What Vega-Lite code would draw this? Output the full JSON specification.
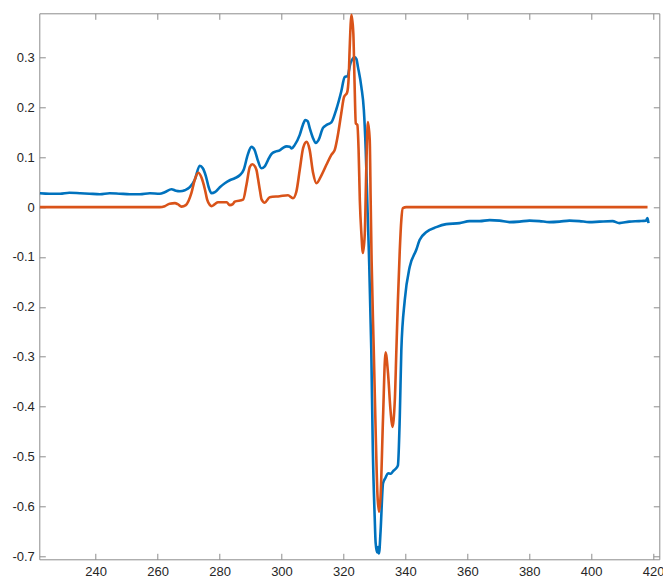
{
  "$schema": "https://vega.github.io/schema/vega-lite/v6.json",
  "autosize": {"type": "none"},
  "width": 620,
  "height": 546,
  "padding": {"left": 39.3, "top": 13.3, "right": 3.7, "bottom": 19.7},
  "background": "white",
  "config": {
    "view": {"stroke": "#8c8c8c", "strokeWidth": 1},
    "axis": {
      "domain": false,
      "grid": false,
      "tickColor": "#8c8c8c",
      "tickSize": -6,
      "labelFont": "Liberation Sans",
      "labelFontSize": 13,
      "labelColor": "#262626",
      "title": null
    }
  },
  "datasets": {
    "blue": [
      {"x": 222.0, "y": 0.028}, {"x": 225.0, "y": 0.027}, {"x": 228.5, "y": 0.027}, {"x": 231.5, "y": 0.029},
      {"x": 234.9, "y": 0.028}, {"x": 238.0, "y": 0.027}, {"x": 241.4, "y": 0.026}, {"x": 244.5, "y": 0.028},
      {"x": 247.8, "y": 0.027}, {"x": 251.0, "y": 0.026}, {"x": 254.3, "y": 0.026}, {"x": 257.5, "y": 0.028},
      {"x": 260.7, "y": 0.027}, {"x": 262.3, "y": 0.030}, {"x": 264.5, "y": 0.036}, {"x": 265.9, "y": 0.033},
      {"x": 267.2, "y": 0.032}, {"x": 268.8, "y": 0.034}, {"x": 270.4, "y": 0.040}, {"x": 272.0, "y": 0.055},
      {"x": 273.6, "y": 0.083}, {"x": 274.6, "y": 0.078}, {"x": 275.6, "y": 0.062}, {"x": 276.5, "y": 0.040},
      {"x": 277.4, "y": 0.028}, {"x": 278.5, "y": 0.030}, {"x": 280.1, "y": 0.040}, {"x": 281.7, "y": 0.048},
      {"x": 283.3, "y": 0.054}, {"x": 284.9, "y": 0.058}, {"x": 286.5, "y": 0.064}, {"x": 287.8, "y": 0.075},
      {"x": 289.1, "y": 0.105}, {"x": 290.3, "y": 0.121}, {"x": 291.3, "y": 0.115}, {"x": 292.3, "y": 0.095},
      {"x": 293.5, "y": 0.078}, {"x": 294.6, "y": 0.082}, {"x": 295.6, "y": 0.094}, {"x": 296.8, "y": 0.107},
      {"x": 298.2, "y": 0.112}, {"x": 299.4, "y": 0.114}, {"x": 300.5, "y": 0.119}, {"x": 301.7, "y": 0.122},
      {"x": 302.7, "y": 0.121}, {"x": 303.3, "y": 0.118}, {"x": 304.3, "y": 0.125}, {"x": 305.9, "y": 0.145},
      {"x": 306.9, "y": 0.165}, {"x": 307.7, "y": 0.175}, {"x": 308.5, "y": 0.172}, {"x": 309.1, "y": 0.159},
      {"x": 310.1, "y": 0.140}, {"x": 311.1, "y": 0.129}, {"x": 312.0, "y": 0.135}, {"x": 313.4, "y": 0.159},
      {"x": 314.6, "y": 0.165}, {"x": 316.1, "y": 0.170}, {"x": 317.7, "y": 0.196}, {"x": 319.3, "y": 0.232},
      {"x": 320.4, "y": 0.261}, {"x": 321.3, "y": 0.263}, {"x": 322.3, "y": 0.289}, {"x": 323.0, "y": 0.298},
      {"x": 323.6, "y": 0.301}, {"x": 324.2, "y": 0.297}, {"x": 324.7, "y": 0.281}, {"x": 325.8, "y": 0.241},
      {"x": 326.6, "y": 0.195}, {"x": 327.2, "y": 0.115}, {"x": 327.7, "y": 0.014}, {"x": 328.2, "y": -0.086},
      {"x": 329.0, "y": -0.287}, {"x": 329.5, "y": -0.488}, {"x": 330.1, "y": -0.622}, {"x": 330.4, "y": -0.673},
      {"x": 330.9, "y": -0.693}, {"x": 331.2, "y": -0.682}, {"x": 331.5, "y": -0.695}, {"x": 332.0, "y": -0.650},
      {"x": 332.8, "y": -0.554}, {"x": 333.6, "y": -0.543}, {"x": 334.4, "y": -0.534}, {"x": 335.3, "y": -0.535},
      {"x": 336.0, "y": -0.530}, {"x": 336.9, "y": -0.525}, {"x": 337.6, "y": -0.518}, {"x": 338.2, "y": -0.421},
      {"x": 338.7, "y": -0.287}, {"x": 339.8, "y": -0.187}, {"x": 341.4, "y": -0.120}, {"x": 343.5, "y": -0.086},
      {"x": 344.6, "y": -0.066}, {"x": 346.8, "y": -0.050}, {"x": 350.0, "y": -0.040}, {"x": 353.2, "y": -0.034},
      {"x": 357.5, "y": -0.032}, {"x": 360.7, "y": -0.028}, {"x": 364.0, "y": -0.028}, {"x": 367.2, "y": -0.026},
      {"x": 370.4, "y": -0.027}, {"x": 373.6, "y": -0.030}, {"x": 376.9, "y": -0.029}, {"x": 380.1, "y": -0.027},
      {"x": 383.3, "y": -0.028}, {"x": 386.5, "y": -0.030}, {"x": 389.8, "y": -0.029}, {"x": 393.0, "y": -0.027},
      {"x": 396.2, "y": -0.028}, {"x": 399.4, "y": -0.030}, {"x": 402.7, "y": -0.029}, {"x": 406.9, "y": -0.028},
      {"x": 409.1, "y": -0.032}, {"x": 412.3, "y": -0.029}, {"x": 415.5, "y": -0.028}, {"x": 417.7, "y": -0.027},
      {"x": 418.2, "y": -0.022}, {"x": 418.5, "y": -0.032}
    ],
    "orange": [
      {"x": 222.0, "y": 0}, {"x": 241.4, "y": 0}, {"x": 260.7, "y": 0}, {"x": 262.3, "y": 0.002},
      {"x": 263.9, "y": 0.007}, {"x": 265.6, "y": 0.008}, {"x": 266.5, "y": 0.006}, {"x": 267.7, "y": 0.001},
      {"x": 269.1, "y": 0.004}, {"x": 270.9, "y": 0.028}, {"x": 272.0, "y": 0.055}, {"x": 273.1, "y": 0.069},
      {"x": 274.2, "y": 0.059}, {"x": 275.3, "y": 0.035}, {"x": 276.0, "y": 0.015}, {"x": 276.9, "y": 0.004},
      {"x": 277.4, "y": 0.002}, {"x": 278.5, "y": 0.006}, {"x": 279.5, "y": 0.010}, {"x": 282.3, "y": 0.010},
      {"x": 283.3, "y": 0.004}, {"x": 284.3, "y": 0.006}, {"x": 284.9, "y": 0.011}, {"x": 287.6, "y": 0.015},
      {"x": 288.7, "y": 0.045}, {"x": 289.8, "y": 0.081}, {"x": 290.6, "y": 0.086}, {"x": 291.9, "y": 0.075},
      {"x": 292.4, "y": 0.058}, {"x": 293.0, "y": 0.035}, {"x": 293.6, "y": 0.015}, {"x": 294.6, "y": 0.009},
      {"x": 296.2, "y": 0.020}, {"x": 299.4, "y": 0.022}, {"x": 302.1, "y": 0.024}, {"x": 303.7, "y": 0.018},
      {"x": 304.8, "y": 0.031}, {"x": 305.9, "y": 0.075}, {"x": 307.0, "y": 0.119}, {"x": 308.1, "y": 0.131},
      {"x": 309.1, "y": 0.115}, {"x": 310.2, "y": 0.069}, {"x": 311.3, "y": 0.048}, {"x": 312.9, "y": 0.064},
      {"x": 314.5, "y": 0.085}, {"x": 316.1, "y": 0.105}, {"x": 317.2, "y": 0.115}, {"x": 318.3, "y": 0.148},
      {"x": 319.3, "y": 0.188}, {"x": 320.2, "y": 0.221}, {"x": 321.2, "y": 0.230}, {"x": 321.7, "y": 0.260},
      {"x": 322.0, "y": 0.315}, {"x": 322.6, "y": 0.386}, {"x": 323.2, "y": 0.349}, {"x": 323.6, "y": 0.249},
      {"x": 324.0, "y": 0.168}, {"x": 324.5, "y": 0.165}, {"x": 324.9, "y": 0.115}, {"x": 325.3, "y": 0.014},
      {"x": 325.8, "y": -0.053}, {"x": 326.3, "y": -0.092}, {"x": 326.9, "y": -0.053}, {"x": 327.4, "y": 0.081},
      {"x": 327.9, "y": 0.171}, {"x": 328.5, "y": 0.135}, {"x": 328.8, "y": 0.014}, {"x": 329.1, "y": -0.106},
      {"x": 329.8, "y": -0.287}, {"x": 330.4, "y": -0.447}, {"x": 331.0, "y": -0.578}, {"x": 331.5, "y": -0.611},
      {"x": 332.0, "y": -0.580}, {"x": 332.8, "y": -0.421}, {"x": 333.6, "y": -0.291}, {"x": 334.4, "y": -0.333},
      {"x": 335.2, "y": -0.407}, {"x": 335.8, "y": -0.441}, {"x": 336.6, "y": -0.387}, {"x": 337.1, "y": -0.287},
      {"x": 337.6, "y": -0.187}, {"x": 338.2, "y": -0.086}, {"x": 338.7, "y": -0.026}, {"x": 339.2, "y": -0.002},
      {"x": 340.3, "y": 0}, {"x": 418.2, "y": 0}
    ]
  },
  "layer": [
    {
      "data": {"name": "blue"},
      "mark": {"type": "line", "color": "#0072BD", "strokeWidth": 2.6, "strokeJoin": "round", "interpolate": "monotone", "clip": true},
      "encoding": {
        "x": {
          "field": "x", "type": "quantitative",
          "scale": {"domain": [221.8, 422], "nice": false, "zero": false},
          "axis": {"orient": "bottom", "values": [240, 260, 280, 300, 320, 340, 360, 380, 400, 420], "format": "d", "labelPadding": 12}
        },
        "y": {
          "field": "y", "type": "quantitative",
          "scale": {"domain": [-0.7066, 0.389], "nice": false, "zero": false},
          "axis": {"orient": "left", "values": [-0.7, -0.6, -0.5, -0.4, -0.3, -0.2, -0.1, 0, 0.1, 0.2, 0.3], "labelExpr": "replace(format(datum.value, '.1~f'), '−', '-')", "labelPadding": 11}
        }
      }
    },
    {
      "data": {"name": "orange"},
      "mark": {"type": "line", "color": "#D95319", "strokeWidth": 2.6, "strokeJoin": "round", "interpolate": "monotone", "clip": true},
      "encoding": {
        "x": {
          "field": "x", "type": "quantitative",
          "axis": {"orient": "top", "values": [240, 260, 280, 300, 320, 340, 360, 380, 400, 420], "labels": false}
        },
        "y": {
          "field": "y", "type": "quantitative",
          "axis": {"orient": "right", "values": [-0.7, -0.6, -0.5, -0.4, -0.3, -0.2, -0.1, 0, 0.1, 0.2, 0.3], "labels": false}
        }
      }
    }
  ],
  "resolve": {"axis": {"x": "independent", "y": "independent"}}
}
